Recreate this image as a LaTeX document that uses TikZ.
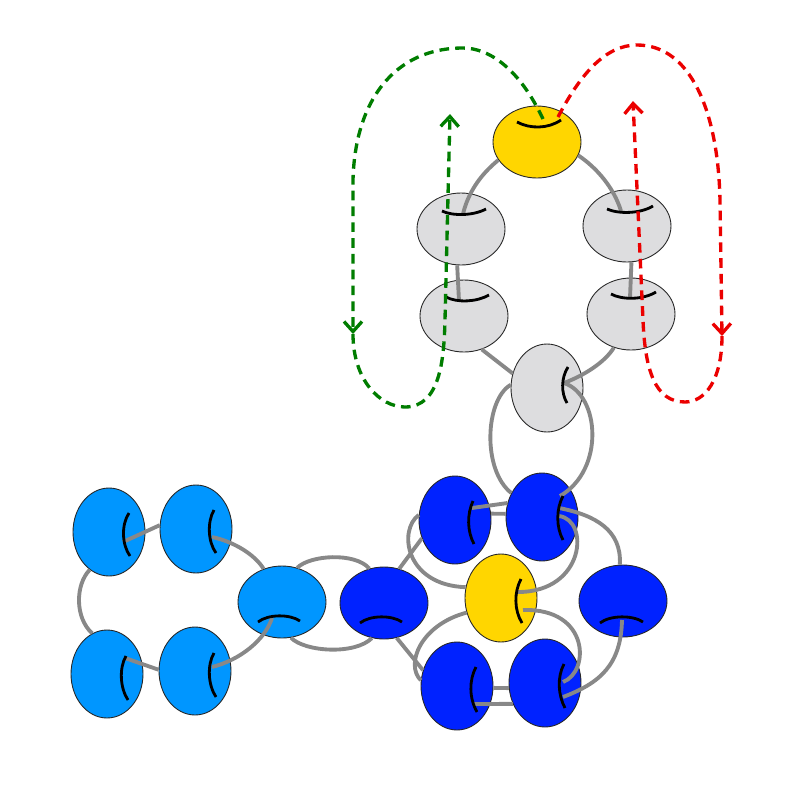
\documentclass[tikz,border=0pt]{standalone}
\usetikzlibrary{shapes.geometric,arrows.meta}
\definecolor{beadgold}{RGB}{255,214,0}
\definecolor{beadpale}{RGB}{221,221,223}
\definecolor{beaddeep}{RGB}{0,34,255}
\definecolor{beadsky}{RGB}{0,150,255}
\definecolor{strandgrey}{RGB}{136,136,136}
\definecolor{trailgreen}{RGB}{0,125,0}
\definecolor{trailred}{RGB}{235,0,0}
\tikzset{
	bead/.style = {ellipse, draw = black!85, line width = 0.5pt, inner sep = 0pt},
	wide/.style = {bead, minimum width = 1.76cm, minimum height = 1.44cm},
	tall/.style = {bead, minimum width = 1.44cm, minimum height = 1.76cm},
	strand/.style = {strandgrey, line width = 2.2pt},
	kink/.style = {black, line width = 1.6pt},
	trail/.style = {dash pattern = on 5.5pt off 3.5pt, line width = 1.9pt, -{Straight Barb[length = 2mm, width = 3.6mm]}}
}
\begin{document}
\begin{tikzpicture}[x = 0.02cm, y = -0.02cm]
		\useasboundingbox (0,0) rectangle (795,795);
		\node[wide, fill = beadgold] (yt) at (537,142) {};
		\node[wide, fill = beadpale] (g1) at (461,229) {};
		\node[wide, fill = beadpale] (g2) at (627,226) {};
		\node[wide, fill = beadpale] (g3) at (464,316) {};
		\node[wide, fill = beadpale] (g4) at (631,314) {};
		\node[tall, fill = beadpale] (gb) at (547,388) {};
		\node[tall, fill = beaddeep] (bt1) at (455,520) {};
		\node[tall, fill = beaddeep] (bt2) at (542,517) {};
		\node[tall, fill = beadgold] (yc) at (501,598) {};
		\node[wide, fill = beaddeep] (br) at (623,601) {};
		\node[tall, fill = beaddeep] (bbl) at (457,686) {};
		\node[tall, fill = beaddeep] (bbr) at (545,683) {};
		\node[wide, fill = beaddeep] (bl) at (384,603) {};
		\node[tall, fill = beadsky] (l1) at (109,532) {};
		\node[tall, fill = beadsky] (l2) at (196,529) {};
		\node[wide, fill = beadsky] (lm) at (282,602) {};
		\node[tall, fill = beadsky] (l3) at (107,674) {};
		\node[tall, fill = beadsky] (l4) at (195,671) {};
		\coordinate (g1s) at (463,214);
		\coordinate (g2s) at (621,211);
		\coordinate (g3s) at (459,301);
		\coordinate (g4s) at (630,298);
		\coordinate (gbs) at (564,383);
		\coordinate (bt1s) at (472,508);
		\coordinate (bt2a) at (560,496);
		\coordinate (bt2b) at (559,508);
		\coordinate (bt2c) at (559,516);
		\coordinate (yca) at (518,592);
		\coordinate (ycb) at (523,610);
		\coordinate (brs) at (622,620);
		\coordinate (bbls) at (473,704);
		\coordinate (bbra) at (563,682);
		\coordinate (bbrb) at (563,697);
		\coordinate (l1s) at (123,542);
		\coordinate (l2s) at (212,537);
		\coordinate (l3s) at (125,658);
		\coordinate (l4s) at (212,667);
		\coordinate (lms) at (272,618);
		\draw[strand] (yt.205) .. controls (480,175) and (468,193) .. (g1s);
		\draw[strand] (yt.342) .. controls (597,168) and (614,188) .. (g2s);
		\draw[strand] (g1.264) -- (g3s);
		\draw[strand] (g2.277) -- (g4s);
		\draw[strand] (g3.298) -- (gb.157);
		\draw[strand] (g4.243) .. controls (605,362) and (585,375) .. (gbs);
		\draw[strand] (gb.175) .. controls (485,400) and (482,470) .. (bt2.142);
		\draw[strand] (gbs) .. controls (600,395) and (605,470) .. (bt2a);
		\draw[strand] (bt1s) -- (bt2.158);
		\draw[strand] (bt1.10) -- (bt2.175);
		\draw[strand] (bt2b) .. controls (595,515) and (622,530) .. (br.95);
		\draw[strand] (bt2c) .. controls (590,520) and (585,592) .. (yca);
		\draw[strand] (ycb) .. controls (590,608) and (590,672) .. (bbra);
		\draw[strand] (brs) .. controls (621,665) and (600,683) .. (bbrb);
		\draw[strand] (bt1.209) -- (bl.66);
		\draw[strand] (bt1.172) .. controls (398,530) and (405,585) .. (yc.163);
		\draw[strand] (yc.203) .. controls (420,625) and (405,665) .. (bbl.171);
		\draw[strand] (bl.290) -- (bbl.155);
		\draw[strand] (bbl.357) -- (bbr.188);
		\draw[strand] (bbls) -- (bbr.213);
		\draw[strand] (l1s) -- (l2.174);
		\draw[strand] (l2s) .. controls (235,542) and (255,555) .. (lm.119);
		\draw[strand] (l1.243) .. controls (75,585) and (75,618) .. (l3.110);
		\draw[strand] (l3s) -- (l4.178);
		\draw[strand] (l4s) .. controls (240,660) and (265,640) .. (lms);
		\draw[strand] (lm.66) .. controls (310,555) and (355,552) .. (bl.113);
		\draw[strand] (lm.284) .. controls (305,652) and (355,655) .. (bl.251);
		\draw[kink] (517,122) .. controls (530,129) and (548,129) .. (561,120);
		\draw[kink] (442,211) .. controls (452,216) and (473,216) .. (486,209);
		\draw[kink] (607,209) .. controls (618,214) and (640,214) .. (653,206);
		\draw[kink] (446,297) .. controls (457,303) and (477,302) .. (489,295);
		\draw[kink] (611,294) .. controls (622,300) and (643,300) .. (656,292);
		\draw[kink] (568,367) .. controls (561,378) and (561,393) .. (567,403);
		\draw[kink] (473,501) .. controls (467,514) and (467,531) .. (474,544);
		\draw[kink] (563,496) .. controls (556,509) and (556,527) .. (563,540);
		\draw[kink] (521,579) .. controls (514,592) and (514,610) .. (522,623);
		\draw[kink] (600,623) .. controls (610,615) and (633,615) .. (643,622);
		\draw[kink] (476,667) .. controls (469,680) and (469,698) .. (477,712);
		\draw[kink] (564,664) .. controls (557,677) and (558,695) .. (565,708);
		\draw[kink] (360,623) .. controls (370,615) and (392,615) .. (402,622);
		\draw[kink] (258,622) .. controls (268,614) and (290,614) .. (300,621);
		\draw[kink] (129,513) .. controls (121,525) and (122,545) .. (130,556);
		\draw[kink] (214,510) .. controls (207,522) and (208,542) .. (216,553);
		\draw[kink] (126,656) .. controls (119,668) and (120,688) .. (128,700);
		\draw[kink] (214,653) .. controls (207,665) and (208,685) .. (216,697);
		\coordinate (gs) at (543,119);
		\coordinate (gm) at (353,334);
		\coordinate (ge) at (450,114);
		\coordinate (rs) at (558,117);
		\coordinate (rm) at (722,336);
		\coordinate (re) at (633,101);
		\draw[trail, trailgreen] (gs) .. controls (520,70) and (490,48) .. (463,48) .. controls (395,48) and (355,100) .. (353,180) -- (gm);
		\draw[trail, trailgreen] (gm) .. controls (353,380) and (380,407) .. (405,407) .. controls (440,407) and (444,360) .. (445,320) -- (ge);
		\draw[trail, trailred] (rs) .. controls (580,75) and (605,45) .. (637,45) .. controls (690,45) and (718,110) .. (720,200) -- (rm);
		\draw[trail, trailred] (rm) .. controls (722,380) and (705,402) .. (685,402) .. controls (655,402) and (645,370) .. (643,320) -- (re);
		\end{tikzpicture}
\end{document}
